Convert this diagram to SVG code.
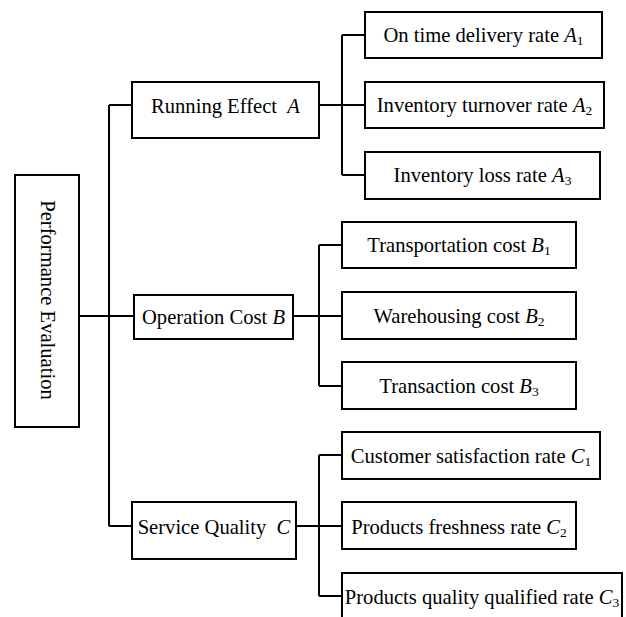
<svg xmlns="http://www.w3.org/2000/svg" width="626" height="617" viewBox="0 0 626 617">
<style>
rect{fill:#fff;stroke:#000;stroke-width:2}
text{font-family:"Liberation Serif","Times New Roman",serif;font-size:20.6px;fill:#000;text-anchor:middle}
.i{font-style:italic}
.s{font-size:13.5px}
#connectors path{fill:none;stroke:#000;stroke-width:2}
</style>
<rect x="0" y="0" width="626" height="617" style="stroke:none"/>
<g id="connectors">
<path d="M79,316H134M109,105V526M109,105H132M109,526H132"/>
<path d="M319,105H342M342,35V175M342,35H365M342,105H365M342,175H365"/>
<path d="M293,316H319M319,245V386M319,245H342M319,316H342M319,386H342"/>
<path d="M296,526H319M319,455V596M319,455H342M319,526H342M319,596H342"/>
</g>
<g id="root"><rect x="15" y="175" width="64" height="252"/><text transform="translate(40.5,300) rotate(90)">Performance Evaluation</text></g>
<g id="A"><rect x="132" y="82" width="187" height="56"/><text x="225.5" y="112.5">Running Effect&#160; <tspan class="i">A</tspan></text></g>
<g id="B"><rect x="134" y="295" width="159" height="44"/><text x="213.5" y="323.5">Operation Cost <tspan class="i">B</tspan></text></g>
<g id="C"><rect x="132" y="502" width="164" height="57"/><text x="214" y="533.5">Service Quality&#160; <tspan class="i">C</tspan></text></g>
<g id="A1"><rect x="365" y="12" width="237" height="46"/><text x="483.5" y="42">On time delivery rate <tspan class="i">A</tspan><tspan class="s" dy="3">1</tspan></text></g>
<g id="A2"><rect x="365" y="82" width="239" height="46"/><text x="484.5" y="112">Inventory turnover rate <tspan class="i">A</tspan><tspan class="s" dy="3">2</tspan></text></g>
<g id="A3"><rect x="365" y="152" width="235" height="47"/><text x="482.5" y="182">Inventory loss rate <tspan class="i">A</tspan><tspan class="s" dy="3">3</tspan></text></g>
<g id="B1"><rect x="342" y="222" width="234" height="46"/><text x="459" y="252">Transportation cost <tspan class="i">B</tspan><tspan class="s" dy="3">1</tspan></text></g>
<g id="B2"><rect x="342" y="292" width="234" height="47"/><text x="459" y="323">Warehousing cost <tspan class="i">B</tspan><tspan class="s" dy="3">2</tspan></text></g>
<g id="B3"><rect x="342" y="362" width="234" height="47"/><text x="459" y="393">Transaction cost <tspan class="i">B</tspan><tspan class="s" dy="3">3</tspan></text></g>
<g id="C1"><rect x="342" y="432" width="258" height="47"/><text x="471" y="462.5">Customer satisfaction rate <tspan class="i">C</tspan><tspan class="s" dy="3">1</tspan></text></g>
<g id="C2"><rect x="342" y="502" width="234" height="47"/><text x="459" y="533.5">Products freshness rate <tspan class="i">C</tspan><tspan class="s" dy="3">2</tspan></text></g>
<g id="C3"><rect x="342" y="573" width="280" height="48"/><text x="482" y="603.5">Products quality qualified rate <tspan class="i">C</tspan><tspan class="s" dy="3">3</tspan></text></g>
</svg>
